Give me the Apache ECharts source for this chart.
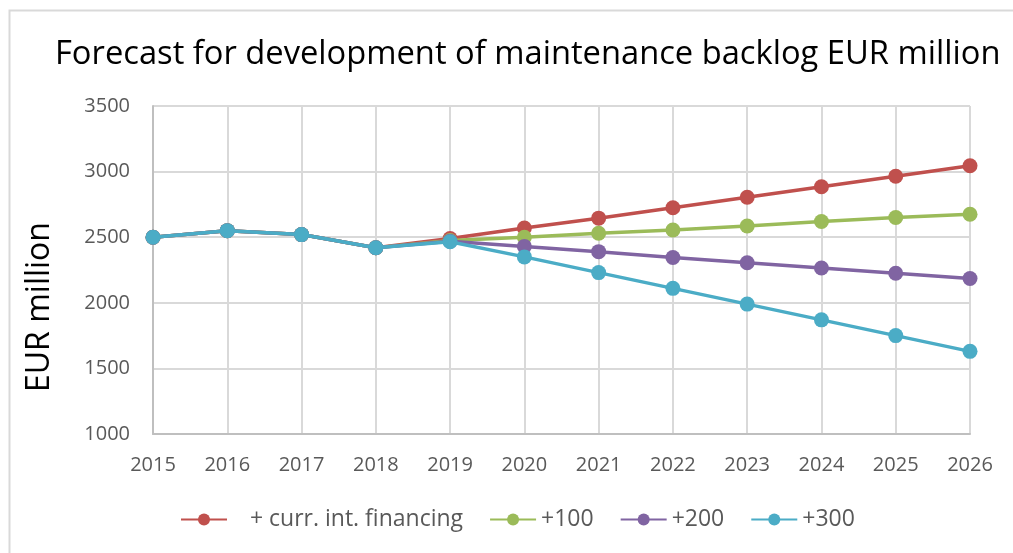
<!DOCTYPE html>
<html>
<head>
<meta charset="utf-8">
<script src="https://cdn.jsdelivr.net/npm/echarts@6/dist/echarts.min.js"></script>
<style>html,body{margin:0;padding:0;background:#fff;}#c{width:1013px;height:553px;}</style>
</head>
<body>
<div id="c"></div>
<script>
const years = ['2015','2016','2017','2018','2019','2020','2021','2022','2023','2024','2025','2026'];
const seriesNames = ['+ curr. int. financing', '+100', '+200', '+300'];
const currFinancing = [2500, 2550, 2520, 2420, 2490, 2570, 2645, 2725, 2805, 2885, 2965, 3045];
const plus100 = [2500, 2550, 2520, 2420, 2475, 2500, 2530, 2555, 2585, 2620, 2650, 2675];
const plus200 = [2500, 2550, 2520, 2420, 2470, 2430, 2390, 2345, 2305, 2265, 2225, 2185];
const plus300 = [2500, 2550, 2520, 2420, 2465, 2350, 2230, 2110, 1990, 1870, 1750, 1630];
const colors = ['#C0504D', '#9BBB59', '#8064A2', '#4BACC6'];
const allData = [currFinancing, plus100, plus200, plus300];
const titleText = 'Forecast for development of maintenance backlog EUR million';
const yAxisName = 'EUR million';

const chart = echarts.init(document.getElementById('c'));
const font = "'Open Sans', 'Noto Sans', sans-serif";
chart.setOption({
  animation: false,
  color: colors,
  graphic: [{
    type: 'rect', left: 7, top: 8, shape: {width: 1100, height: 700},
    style: {fill: 'none', stroke: '#d9d9d9', lineWidth: 2}, z: -1
  }, {
    type: 'text', x: 40, y: 307, rotation: Math.PI / 2,
    style: {text: yAxisName, fontFamily: font, fontSize: 32, fill: '#000',
      align: 'center', verticalAlign: 'middle'}
  }],
  title: {
    text: titleText,
    left: 50, top: 33,
    textStyle: {fontFamily: font, fontSize: 32.7, fontWeight: 'normal', color: '#000'}
  },
  legend: {
    top: 503, left: 175,
    itemWidth: 46, itemHeight: 15, itemGap: 26,
    textStyle: {fontFamily: font, fontSize: 23, color: '#595959'},
    formatter: function (n) { return n === seriesNames[0] ? '   ' + n : n; },
    data: seriesNames
  },
  grid: {left: 153, right: 43, top: 106, bottom: 119},
  xAxis: {
    type: 'category', data: years, boundaryGap: false,
    axisLine: {lineStyle: {color: '#bfbfbf', width: 2}},
    axisTick: {show: false},
    splitLine: {show: true, lineStyle: {color: '#d9d9d9', width: 2}},
    axisLabel: {fontFamily: font, fontSize: 20, color: '#595959', margin: 21}
  },
  yAxis: {
    type: 'value', min: 1000, max: 3500, interval: 500,
    axisLine: {show: true, lineStyle: {color: '#bfbfbf', width: 2}},
    axisTick: {show: false},
    splitLine: {lineStyle: {color: '#d9d9d9', width: 2}},
    axisLabel: {fontFamily: font, fontSize: 20, color: '#595959', margin: 23,
      formatter: function (v) { return String(v); }}
  },
  series: seriesNames.map((n, i) => ({
    name: n, type: 'line', data: allData[i],
    symbol: 'circle', symbolSize: 15,
    lineStyle: {width: 3.5, color: colors[i]},
    itemStyle: {color: colors[i]},
    z: 10 + i
  }))
});
</script>
</body>
</html>
